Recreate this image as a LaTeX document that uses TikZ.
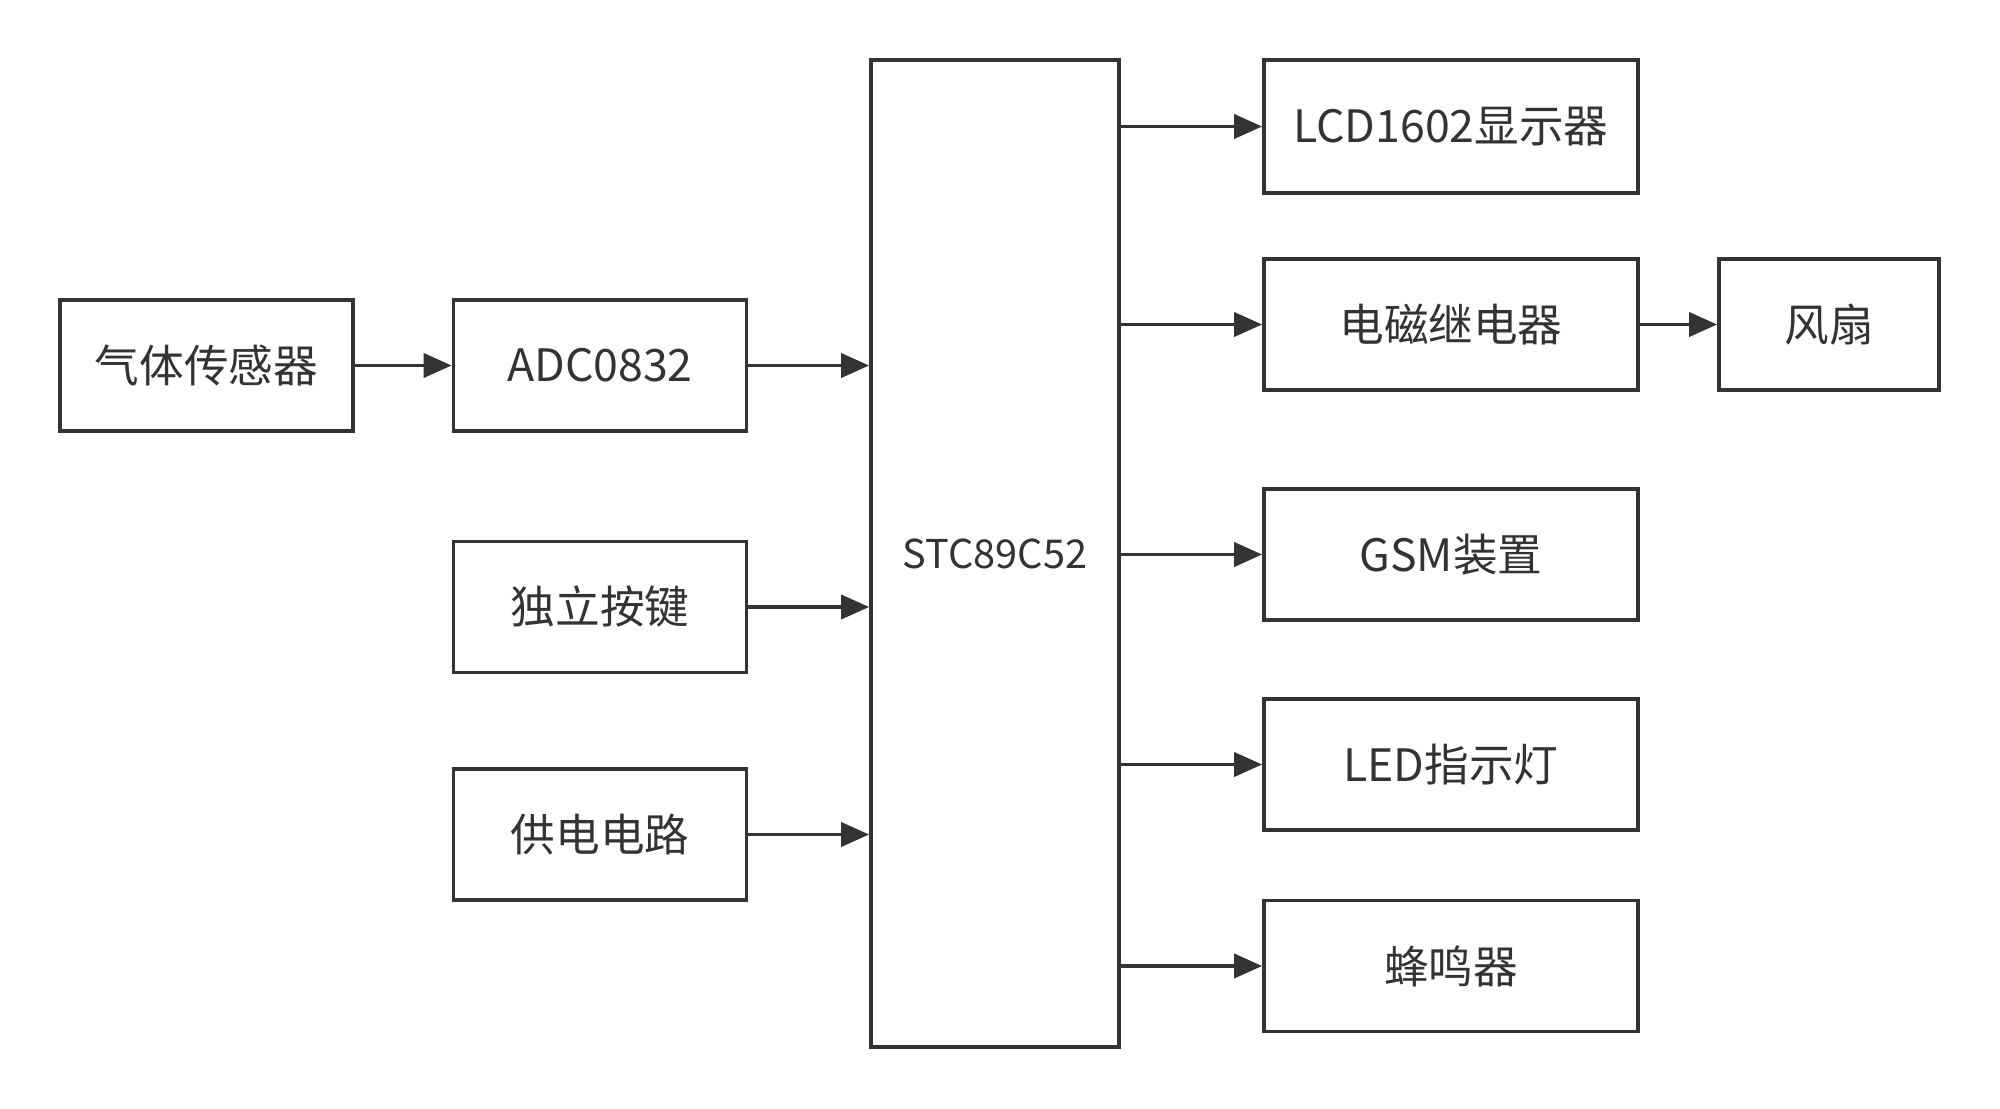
\documentclass[tikz,border=0pt]{standalone}
\usepackage{fontspec}
\setmainfont{Noto Sans CJK SC}
\usetikzlibrary{arrows.meta, positioning}
\definecolor{lineclr}{HTML}{333333}
\tikzset{
  % modulo generico
  block/.style={draw=lineclr, line width=1.05pt, minimum width=2.93cm,
    minimum height=1.31cm, align=center, fill=white, text=lineclr,
    font=\fontsize{12.7}{14}\selectfont, inner sep=0pt},
  % microcontrollore
  mcu/.style={block, minimum width=2.48cm, minimum height=9.87cm,
    font=\fontsize{11.3}{13}\selectfont},
  % collegamento con freccia
  link/.style={draw=lineclr, line width=1.05pt,
    -{Triangle[length=2.8mm, width=2.4mm]}},
}
\begin{document}
\begin{tikzpicture}
  \useasboundingbox (0,0) rectangle (20,-11.08);
  % ingressi
  \node[block] (sensor) at (2.065,-3.655) {气体传感器};
  \node[block] (adc) at (6.00,-3.655) {ADC0832};
  \node[block] (keys) at (6.00,-6.07) {独立按键};
  \node[block] (power) at (6.00,-8.345) {供电电路};
  % unita centrale
  \node[mcu] (stc) at (9.95,-5.535) {STC89C52};
  % uscite
  \node[block, minimum width=3.74cm, minimum height=1.33cm] (lcd) at (14.51,-1.265) {LCD1602显示器};
  \node[block, minimum width=3.74cm] (relay) at (14.51,-3.245) {电磁继电器};
  \node[block, minimum width=2.2cm] (fan) at (18.29,-3.245) {风扇};
  \node[block, minimum width=3.74cm] (gsm) at (14.51,-5.545) {GSM装置};
  \node[block, minimum width=3.74cm] (led) at (14.51,-7.645) {LED指示灯};
  \node[block, minimum width=3.74cm] (buzzer) at (14.51,-9.66) {蜂鸣器};
  % collegamenti
  \draw[link] (sensor) -- (adc);
  \draw[link] (adc) -- (adc -| stc.west);
  \draw[link] (keys) -- (keys -| stc.west);
  \draw[link] (power) -- (power -| stc.west);
  \foreach \out in {lcd, relay, gsm, led, buzzer}
    \draw[link] (\out -| stc.east) -- (\out);
  \draw[link] (relay) -- (fan);
\end{tikzpicture}
\end{document}
